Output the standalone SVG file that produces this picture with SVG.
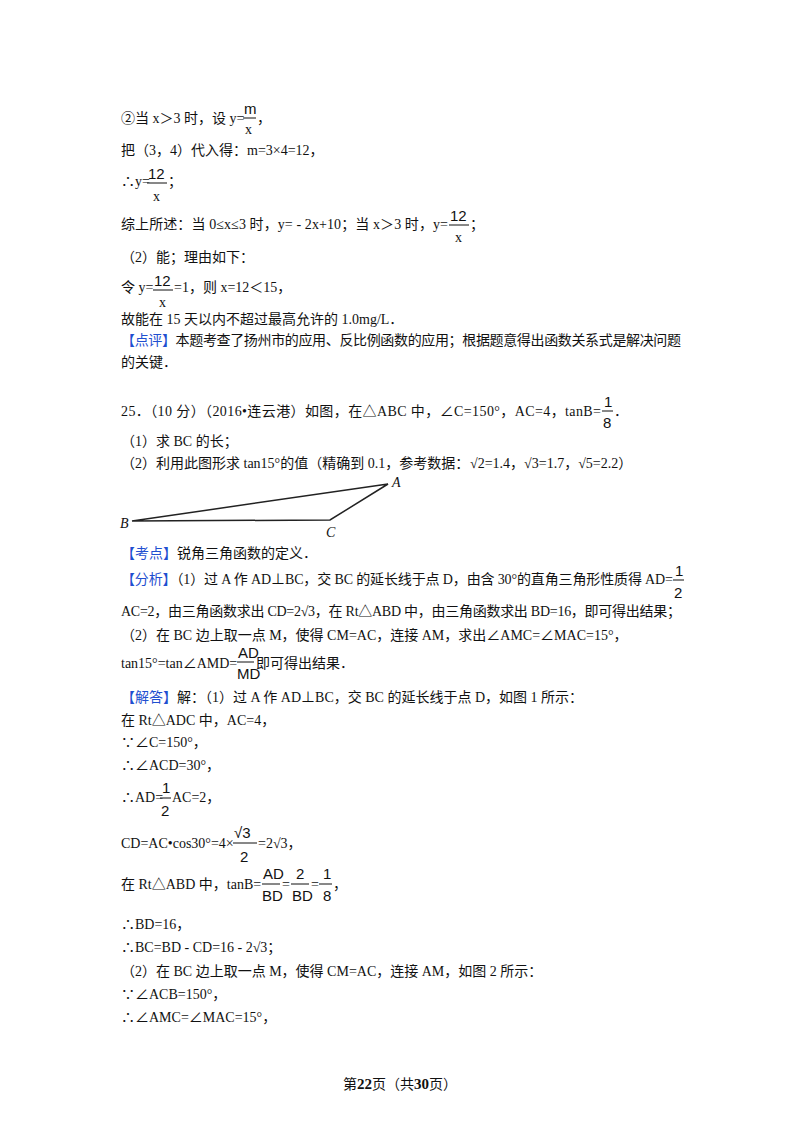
<svg xmlns="http://www.w3.org/2000/svg" width="800" height="1132" viewBox="0 0 800 1132">
<style>
text{font-family:"Liberation Serif","Noto Sans CJK SC",serif;font-size:14px;fill:#111}
.f{font-family:"Liberation Sans","Noto Sans CJK SC",sans-serif;font-size:15px}
.b{fill:#1f4fd0}
.bar{stroke:#111;stroke-width:1}
</style>
<rect width="800" height="1132" fill="#fff"/>
<g id="text">
<text x="121" y="123">②当 x＞3 时，设 y=</text><text class="f" x="244" y="114" font-size="12">m</text><line class="bar" x1="243" y1="118" x2="256" y2="118"/><text x="245" y="134">x</text><text x="257" y="123">，</text>
<text x="121" y="155">把（3，4）代入得：m=3×4=12，</text>
<text x="121" y="186">∴y=</text><text class="f" x="148" y="179">12</text><line class="bar" x1="147" y1="183" x2="167" y2="183"/><text x="153" y="201">x</text><text x="168" y="186">；</text>
<text x="121" y="229" textLength="327" lengthAdjust="spacing">综上所述：当 0≤x≤3 时，y= - 2x+10；当 x＞3 时，y=</text><text class="f" x="450" y="221">12</text><line class="bar" x1="449" y1="225" x2="469" y2="225"/><text x="455" y="242">x</text><text x="470" y="229">；</text>
<text x="121" y="262">（2）能；理由如下：</text>
<text x="121" y="292">令 y=</text><text class="f" x="154" y="286">12</text><line class="bar" x1="153" y1="290" x2="173" y2="290"/><text x="159" y="307">x</text><text x="174" y="292">=1，则 x=12＜15，</text>
<text x="121" y="324">故能在 15 天以内不超过最高允许的 1.0mg/L．</text>
<text x="121" y="345" textLength="560"><tspan class="b">【点评】</tspan>本题考查了扬州市的应用、反比例函数的应用；根据题意得出函数关系式是解决问题</text>
<text x="121" y="367">的关键．</text>

<text x="121" y="416" textLength="480" lengthAdjust="spacing">25．（10 分）（2016•连云港）如图，在△ABC 中，∠C=150°，AC=4，tanB=</text><text class="f" x="604" y="407" font-size="14">1</text><line class="bar" x1="602" y1="411" x2="613" y2="411"/><text class="f" x="603" y="428" font-size="14">8</text><text x="614" y="416">．</text>
<text x="121" y="446">（1）求 BC 的长；</text>
<text x="121" y="468">（2）利用此图形求 tan15°的值（精确到 0.1，参考数据：</text>
<text x="470" y="468">√2=1.4，√3=1.7，√5=2.2）</text>
<text x="121" y="558"><tspan class="b">【考点】</tspan>锐角三角函数的定义．</text>
<text x="121" y="584" textLength="552"><tspan class="b">【分析】</tspan>（1）过 A 作 AD⊥BC，交 BC 的延长线于点 D，由含 30°的直角三角形性质得 AD=</text><text class="f" x="675" y="576" font-size="14">1</text><line class="bar" x1="673" y1="580" x2="684" y2="580"/><text class="f" x="674" y="598" font-size="14">2</text>
<text x="121" y="616" textLength="560">AC=2，由三角函数求出 CD=2√3，在 Rt△ABD 中，由三角函数求出 BD=16，即可得出结果；</text>
<text x="121" y="640">（2）在 BC 边上取一点 M，使得 CM=AC，连接 AM，求出∠AMC=∠MAC=15°，</text>
<text x="121" y="668">tan15°=tan∠AMD=</text><text class="f" x="238" y="658" font-size="12">AD</text><line class="bar" x1="237" y1="662" x2="254" y2="662"/><text class="f" x="237" y="679" font-size="12">MD</text><text x="256" y="668">即可得出结果．</text>

<text x="121" y="702"><tspan class="b">【解答】</tspan>解：（1）过 A 作 AD⊥BC，交 BC 的延长线于点 D，如图 1 所示：</text>
<text x="121" y="725">在 Rt△ADC 中，AC=4，</text>
<text x="121" y="747">∵∠C=150°，</text>
<text x="121" y="770">∴∠ACD=30°，</text>
<text x="121" y="802">∴AD=</text><text class="f" x="162" y="793" font-size="14">1</text><line class="bar" x1="160" y1="798" x2="171" y2="798"/><text class="f" x="161" y="816" font-size="14">2</text><text x="172" y="802">AC=2，</text>
<text x="121" y="848">CD=AC•cos30°=4×</text><text class="f" x="234" y="838" font-size="14">√3</text><line class="bar" x1="233" y1="843" x2="257" y2="843"/><text class="f" x="240" y="862" font-size="14">2</text><text x="258" y="848">=2√3，</text>
<text x="121" y="889">在 Rt△ABD 中，tanB=</text><text class="f" x="263" y="879" font-size="12">AD</text><line class="bar" x1="262" y1="884" x2="280" y2="884"/><text class="f" x="262" y="901" font-size="12">BD</text><text x="282" y="889" font-size="11">=</text><text class="f" x="296" y="879" font-size="12">2</text><line class="bar" x1="291" y1="884" x2="309" y2="884"/><text class="f" x="292" y="901" font-size="12">BD</text><text x="311" y="889" font-size="11">=</text><text class="f" x="323" y="879" font-size="12">1</text><line class="bar" x1="319" y1="884" x2="332" y2="884"/><text class="f" x="323" y="901" font-size="12">8</text><text x="333" y="889">，</text>
<text x="121" y="929">∴BD=16，</text>
<text x="121" y="952">∴BC=BD - CD=16 - 2√3；</text>
<text x="121" y="976">（2）在 BC 边上取一点 M，使得 CM=AC，连接 AM，如图 2 所示：</text>
<text x="121" y="999">∵∠ACB=150°，</text>
<text x="121" y="1022">∴∠AMC=∠MAC=15°，</text>
<text x="400" y="1089" text-anchor="middle" font-size="13">第<tspan font-weight="bold" font-size="15">22</tspan>页（共<tspan font-weight="bold" font-size="15">30</tspan>页）</text>
</g>
<g id="figure">
<polygon points="132,521 388,484 330,520" fill="none" stroke="#222" stroke-width="1.5"/>
<text x="392" y="487" font-style="italic" font-size="12">A</text>
<text x="120" y="528" font-style="italic" font-size="12">B</text>
<text x="326" y="537" font-style="italic" font-size="12">C</text>
</g>
</svg>
